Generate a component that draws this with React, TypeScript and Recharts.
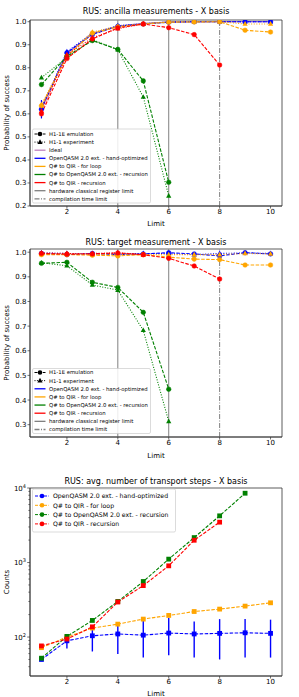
import React from 'react';
import { ErrorBar, Line, LineChart, ReferenceArea, ReferenceLine, XAxis, YAxis } from 'recharts';

const limits = [1, 2, 3, 4, 5, 6, 7, 8, 9, 10];
const xTicks = [2, 4, 6, 8, 10];
const ancTicks = [0.2, 0.3, 0.4, 0.5, 0.6, 0.7, 0.8, 0.9, 1.0];
const tgtTicks = [0.3, 0.4, 0.5, 0.6, 0.7, 0.8, 0.9, 1.0];
const logTicks = [
  40, 50, 60, 70, 80, 90, 100, 200, 300, 400, 500, 600, 700, 800, 900, 1000,
  2000, 3000, 4000, 5000, 6000, 7000, 8000, 9000, 10000,
];

// ancilla measurements - X basis
const ancIdeal = [0.625, 0.862, 0.947, 0.981, 0.993, 0.998, 0.999, 1.0, 1.0, 1.0];
const ancHandEmu = [0.62, 0.865, 0.945, 0.98, 0.99, 0.998, 1.0, 1.0, 1.0, 1.0];
const ancHandErr = [0.04, 0.012, 0.006, 0.003, 0.002, 0.001, 0, 0, 0, 0];
const ancHandExp = [0.627, 0.87, 0.95, 0.983, 0.991, 0.999, 1.0, 1.0, 1.0, 1.0];
const ancLoopEmu = [0.635, 0.85, 0.95, 0.977, 0.99, 0.998, 0.999, 1.0, 0.963, 0.955];
const ancLoopExp = [0.64, 0.852, 0.955, 0.98, 0.99, 1.0, 1.0, 1.0, 0.99, 0.99];
const ancRecQasmEmu = [0.727, 0.85, 0.918, 0.88, 0.743, 0.303];
const ancRecQasmExp = [0.757, 0.845, 0.922, 0.878, 0.673, 0.244];
const ancRecQirEmu = [0.6, 0.84, 0.925, 0.973, 0.99, 0.974, 0.944, 0.812];
const ancRecQirExp = [0.613, 0.857, 0.93, 0.97, 0.99];

// target measurement - X basis
const tgtHandEmu = [0.995, 0.99, 0.995, 0.99, 0.993, 0.998, 0.993, 0.985, 0.998, 0.993];
const tgtHandExp = [0.997, 0.995, 0.993, 0.995, 0.995, 0.995, 0.99, 0.995, 0.997, 0.995];
const tgtLoopEmu = [0.99, 0.99, 0.988, 0.985, 0.99, 0.98, 0.972, 0.97, 0.948, 0.948];
const tgtLoopExp = [0.992, 0.993, 0.99, 0.99, 0.99, 0.99, 0.99, 0.99, 0.995, 0.993];
const tgtRecQasmEmu = [0.955, 0.959, 0.878, 0.857, 0.756, 0.444];
const tgtRecQasmExp = [0.957, 0.945, 0.867, 0.846, 0.683, 0.313];
const tgtRecQirEmu = [0.995, 0.992, 0.993, 0.997, 0.99, 0.975, 0.944, 0.891];
const tgtRecQirExp = [0.997, 0.995, 0.995, 0.998, 0.99];

// avg. number of transport steps
const stepsHand = [50, 89, 104, 110, 106, 113, 110, 112, 114, 112];
const stepsHandLow = [48, 70, 64, 59, 53, 57, 53, 50, 53, 53];
const stepsHandHigh = [52, 102, 132, 154, 171, 180, 162, 174, 174, 171];
const stepsLoop = [72, 100, 132, 149, 174, 195, 220, 237, 260, 288];
const stepsRecQasm = [52, 102, 167, 300, 556, 1110, 2160, 4230, 8510];
const stepsRecQir = [76, 94, 137, 295, 490, 903, 1990, 3480];

const BLUE = '#0000ff';
const ORANGE = '#ffa500';
const GREEN = '#008000';
const RED = '#ff0000';
const PURPLE = '#bf80bf';
const GRAY = '#808080';
const AXIS = '#333';
const DASH = '3.5 1.5';
const DOT = '1 1.6';
const DASHDOT = '5 1.5 1 1.5';

const buildRows = (series: Record<string, any[]>) =>
  limits.map((limit, i) => {
    const row: Record<string, any> = { limit };
    Object.entries(series).forEach(([key, vals]) => {
      if (vals[i] !== undefined) row[key] = vals[i];
    });
    return row;
  });

const ancRows = buildRows({
  ideal: ancIdeal,
  handEmu: ancHandEmu,
  handErr: ancHandErr,
  handExp: ancHandExp,
  loopEmu: ancLoopEmu,
  loopExp: ancLoopExp,
  qasmEmu: ancRecQasmEmu,
  qasmExp: ancRecQasmExp,
  qirEmu: ancRecQirEmu,
  qirExp: ancRecQirExp,
});

const tgtRows = buildRows({
  handEmu: tgtHandEmu,
  handExp: tgtHandExp,
  loopEmu: tgtLoopEmu,
  loopExp: tgtLoopExp,
  qasmEmu: tgtRecQasmEmu,
  qasmExp: tgtRecQasmExp,
  qirEmu: tgtRecQirEmu,
  qirExp: tgtRecQirExp,
});

const stepRows = buildRows({
  hand: stepsHand,
  handErr: stepsHand.map((v, i) => [v - stepsHandLow[i], stepsHandHigh[i] - v]),
  loop: stepsLoop,
  qasm: stepsRecQasm,
  qir: stepsRecQir,
});

const bad = (cx: any, cy: any) => cx == null || cy == null || Number.isNaN(cx) || Number.isNaN(cy);

const circleDot = (color: string) => (props: any) => {
  const { cx, cy, index } = props;
  if (bad(cx, cy)) return <g key={index} />;
  return <circle key={index} cx={cx} cy={cy} r={2.3} fill={color} stroke={color} strokeWidth={0.5} />;
};

const triDot = (color: string) => (props: any) => {
  const { cx, cy, index } = props;
  if (bad(cx, cy)) return <g key={index} />;
  return (
    <polygon
      key={index}
      points={`${cx},${cy - 2.9} ${cx - 2.6},${cy + 1.8} ${cx + 2.6},${cy + 1.8}`}
      fill={color}
    />
  );
};

const squareDot = (color: string) => (props: any) => {
  const { cx, cy, index } = props;
  if (bad(cx, cy)) return <g key={index} />;
  return <rect key={index} x={cx - 2.4} y={cy - 2.4} width={4.8} height={4.8} fill={color} />;
};

const LogTick = (props: any) => {
  const { x, y, payload } = props;
  const v = payload.value;
  const exp = Math.round(Math.log10(v));
  const major = Math.abs(Math.pow(10, exp) - v) < 1e-6;
  return (
    <g>
      <line x1={x - (major ? 2.8 : 1.6)} x2={x} y1={y} y2={y} stroke={AXIS} strokeWidth={0.7} />
      {major && (
        <text x={x - 4} y={y + 2.5} textAnchor="end" fontSize={7} fill="#000">
          10
          <tspan dy={-3} fontSize={5}>
            {exp}
          </tspan>
        </text>
      )}
    </g>
  );
};

const tickStyle = { fontSize: 7, fill: '#000' };

const xAxis = (height: number) => (
  <XAxis
    dataKey="limit"
    type="number"
    domain={[0.55, 10.45]}
    ticks={xTicks}
    allowDataOverflow
    height={height}
    tick={tickStyle}
    tickSize={2.5}
    tickMargin={1}
    tickLine={{ stroke: AXIS, strokeWidth: 0.7 }}
    axisLine={{ stroke: AXIS, strokeWidth: 0.8 }}
    interval={0}
  />
);

const limitLines = [
  <ReferenceLine key="l4" x={4} stroke={GRAY} strokeWidth={1} />,
  <ReferenceLine key="l6" x={6} stroke={GRAY} strokeWidth={1} />,
  <ReferenceLine key="l8" x={8} stroke={GRAY} strokeWidth={1} strokeDasharray={DASHDOT} />,
];

const probLines = (withIdeal: boolean, withErr: boolean) => [
  withIdeal ? (
    <Line key="ideal" dataKey="ideal" stroke={PURPLE} strokeWidth={1.3} dot={false} isAnimationActive={false} />
  ) : null,
  <Line key="he" dataKey="handEmu" stroke={BLUE} strokeWidth={1.1} strokeDasharray={DASH} dot={circleDot(BLUE)} isAnimationActive={false}>
    {withErr ? <ErrorBar dataKey="handErr" width={0} stroke={BLUE} strokeWidth={1.2} direction="y" /> : null}
  </Line>,
  <Line key="hx" dataKey="handExp" stroke={BLUE} strokeWidth={1.1} strokeDasharray={DOT} dot={triDot(BLUE)} isAnimationActive={false} />,
  <Line key="le" dataKey="loopEmu" stroke={ORANGE} strokeWidth={1.1} strokeDasharray={DASH} dot={circleDot(ORANGE)} isAnimationActive={false} />,
  <Line key="lx" dataKey="loopExp" stroke={ORANGE} strokeWidth={1.1} strokeDasharray={DOT} dot={triDot(ORANGE)} isAnimationActive={false} />,
  <Line key="qe" dataKey="qasmEmu" stroke={GREEN} strokeWidth={1.1} strokeDasharray={DASH} dot={circleDot(GREEN)} isAnimationActive={false} />,
  <Line key="qx" dataKey="qasmExp" stroke={GREEN} strokeWidth={1.1} strokeDasharray={DOT} dot={triDot(GREEN)} isAnimationActive={false} />,
  <Line key="re" dataKey="qirEmu" stroke={RED} strokeWidth={1.1} strokeDasharray={DASH} dot={circleDot(RED)} isAnimationActive={false} />,
  <Line key="rx" dataKey="qirExp" stroke={RED} strokeWidth={1.1} strokeDasharray={DOT} dot={triDot(RED)} isAnimationActive={false} />,
];

type LegendItem = { label: string; color: string; dash?: string; marker?: 'circle' | 'triangle'; width?: number };

const Legend = ({
  x, y, w, h, items, firstY, rowH, fontSize, swX1, swX2, textX,
}: {
  x: number; y: number; w: number; h: number; items: LegendItem[]; firstY: number; rowH: number;
  fontSize: number; swX1: number; swX2: number; textX: number;
}) => (
  <g>
    <rect x={x} y={y} width={w} height={h} rx={1.5} fill="#fff" fillOpacity={0.85} stroke="#ccc" strokeWidth={0.7} />
    {items.map((it, i) => {
      const cy = firstY + i * rowH;
      const mx = (swX1 + swX2) / 2;
      return (
        <g key={it.label}>
          <line x1={swX1} x2={swX2} y1={cy} y2={cy} stroke={it.color} strokeWidth={it.width ?? 1.3} strokeDasharray={it.dash} />
          {it.marker === 'circle' && <circle cx={mx} cy={cy} r={2.3} fill={it.color} />}
          {it.marker === 'triangle' && (
            <polygon points={`${mx},${cy - 2.9} ${mx - 2.6},${cy + 1.8} ${mx + 2.6},${cy + 1.8}`} fill={it.color} />
          )}
          <text x={textX} y={cy + fontSize * 0.36} fontSize={fontSize} fill="#000">
            {it.label}
          </text>
        </g>
      );
    })}
  </g>
);

const probLegend = (withIdeal: boolean): LegendItem[] => [
  { label: 'H1-1E emulation', color: '#000', dash: '3 1.2', marker: 'circle', width: 1 },
  { label: 'H1-1  experiment', color: '#000', dash: '1 1.4', marker: 'triangle', width: 1 },
  ...(withIdeal ? [{ label: 'Ideal', color: PURPLE }] : []),
  { label: 'OpenQASM 2.0 ext. - hand-optimized', color: BLUE },
  { label: 'Q# to QIR - for loop', color: ORANGE },
  { label: 'Q# to OpenQASM 2.0 ext. - recursion', color: GREEN },
  { label: 'Q# to QIR - recursion', color: RED },
  { label: 'hardware classical register limit', color: GRAY },
  { label: 'compilation time limit', color: GRAY, dash: DASHDOT },
];

const stepsLegend: LegendItem[] = [
  { label: 'OpenQASM 2.0 ext. - hand-optimized', color: BLUE, dash: '3 1.5', marker: 'circle', width: 1 },
  { label: 'Q# to QIR - for loop', color: ORANGE, dash: '3 1.5', marker: 'circle', width: 1 },
  { label: 'Q# to OpenQASM 2.0 ext. - recursion', color: GREEN, dash: '3 1.5', marker: 'circle', width: 1 },
  { label: 'Q# to QIR - recursion', color: RED, dash: '3 1.5', marker: 'circle', width: 1 },
];

export default function App() {
  return (
    <div
      style={{
        position: 'absolute',
        left: 0,
        top: 0,
        width: 299,
        height: 697,
        background: '#fff',
        fontFamily: '"DejaVu Sans", sans-serif',
      }}
    >
      <div style={{ position: 'absolute', left: 0, top: 0 }}>
        <LineChart width={299} height={232} data={ancRows} margin={{ top: 20, right: 17, bottom: 0, left: 0 }}>
          {xAxis(26)}
          <YAxis
            type="number"
            domain={[0.2, 1.0074]}
            allowDataOverflow
            ticks={ancTicks}
            width={30}
            tick={tickStyle}
            tickSize={2.5}
            tickMargin={1}
            interval={0}
            tickFormatter={(v: number) => v.toFixed(1)}
            tickLine={{ stroke: AXIS, strokeWidth: 0.7 }}
            axisLine={{ stroke: AXIS, strokeWidth: 0.8 }}
          />
          {limitLines}
          {probLines(true, true)}
          <ReferenceArea x1={0.55} x2={10.45} y1={0.2} y2={1.0074} fill="none" stroke={AXIS} strokeWidth={0.8} />
        </LineChart>
      </div>

      <div style={{ position: 'absolute', left: 0, top: 232 }}>
        <LineChart width={299} height={228} data={tgtRows} margin={{ top: 17, right: 17, bottom: 0, left: 0 }}>
          {xAxis(23)}
          <YAxis
            type="number"
            domain={[0.25, 1.013]}
            allowDataOverflow
            ticks={tgtTicks}
            width={30}
            tick={tickStyle}
            tickSize={2.5}
            tickMargin={1}
            interval={0}
            tickFormatter={(v: number) => v.toFixed(1)}
            tickLine={{ stroke: AXIS, strokeWidth: 0.7 }}
            axisLine={{ stroke: AXIS, strokeWidth: 0.8 }}
          />
          {limitLines}
          {probLines(false, false)}
          <ReferenceArea x1={0.55} x2={10.45} y1={0.25} y2={1.013} fill="none" stroke={AXIS} strokeWidth={0.8} />
        </LineChart>
      </div>

      <div style={{ position: 'absolute', left: 0, top: 460 }}>
        <LineChart width={299} height={237} data={stepRows} margin={{ top: 28, right: 17, bottom: 0, left: 0 }}>
          {xAxis(21)}
          <YAxis
            type="number"
            scale="log"
            domain={[30, 10000]}
            allowDataOverflow
            ticks={logTicks}
            width={30}
            tick={<LogTick />}
            tickSize={0}
            tickMargin={0}
            tickLine={false}
            interval={0}
            axisLine={{ stroke: AXIS, strokeWidth: 0.8 }}
          />
          <Line dataKey="hand" stroke={BLUE} strokeWidth={1.1} strokeDasharray={DASH} dot={squareDot(BLUE)} isAnimationActive={false}>
            <ErrorBar dataKey="handErr" width={0} stroke={BLUE} strokeWidth={1.4} direction="y" />
          </Line>
          <Line dataKey="loop" stroke={ORANGE} strokeWidth={1.1} strokeDasharray={DASH} dot={squareDot(ORANGE)} isAnimationActive={false} />
          <Line dataKey="qasm" stroke={GREEN} strokeWidth={1.1} strokeDasharray={DASH} dot={squareDot(GREEN)} isAnimationActive={false} />
          <Line dataKey="qir" stroke={RED} strokeWidth={1.1} strokeDasharray={DASH} dot={squareDot(RED)} isAnimationActive={false} />
          <ReferenceArea x1={0.55} x2={10.45} y1={30} y2={10000} fill="none" stroke={AXIS} strokeWidth={0.8} />
        </LineChart>
      </div>

      <svg width={299} height={697} style={{ position: 'absolute', left: 0, top: 0, pointerEvents: 'none' }}>
        <text x={156} y={13.8} textAnchor="middle" fontSize={8}>RUS: ancilla measurements - X basis</text>
        <text x={156} y={244.5} textAnchor="middle" fontSize={8}>RUS: target measurement - X basis</text>
        <text x={156} y={483.8} textAnchor="middle" fontSize={8}>RUS: avg. number of transport steps - X basis</text>

        <text x={156} y={225.5} textAnchor="middle" fontSize={7}>Limit</text>
        <text x={156} y={457.5} textAnchor="middle" fontSize={7}>Limit</text>
        <text x={156} y={696.3} textAnchor="middle" fontSize={7}>Limit</text>

        <text transform="translate(6.5,113) rotate(-90)" textAnchor="middle" dominantBaseline="central" fontSize={7}>
          Probability of success
        </text>
        <text transform="translate(6.5,343) rotate(-90)" textAnchor="middle" dominantBaseline="central" fontSize={7}>
          Probability of success
        </text>
        <text transform="translate(6.5,582) rotate(-90)" textAnchor="middle" dominantBaseline="central" fontSize={7}>
          Counts
        </text>

        <Legend x={32.5} y={129} w={118} h={74} items={probLegend(true)} firstY={134} rowH={8.1} fontSize={5.3} swX1={34.5} swX2={45.5} textX={49} />
        <Legend x={32.5} y={368.5} w={118} h={65} items={probLegend(false)} firstY={372.5} rowH={8.14} fontSize={5.3} swX1={34.5} swX2={45.5} textX={49} />
        <Legend x={32.5} y={489} w={143} h={43} items={stepsLegend} firstY={496} rowH={9.3} fontSize={6.2} swX1={35} swX2={49} textX={53} />
      </svg>
    </div>
  );
}
